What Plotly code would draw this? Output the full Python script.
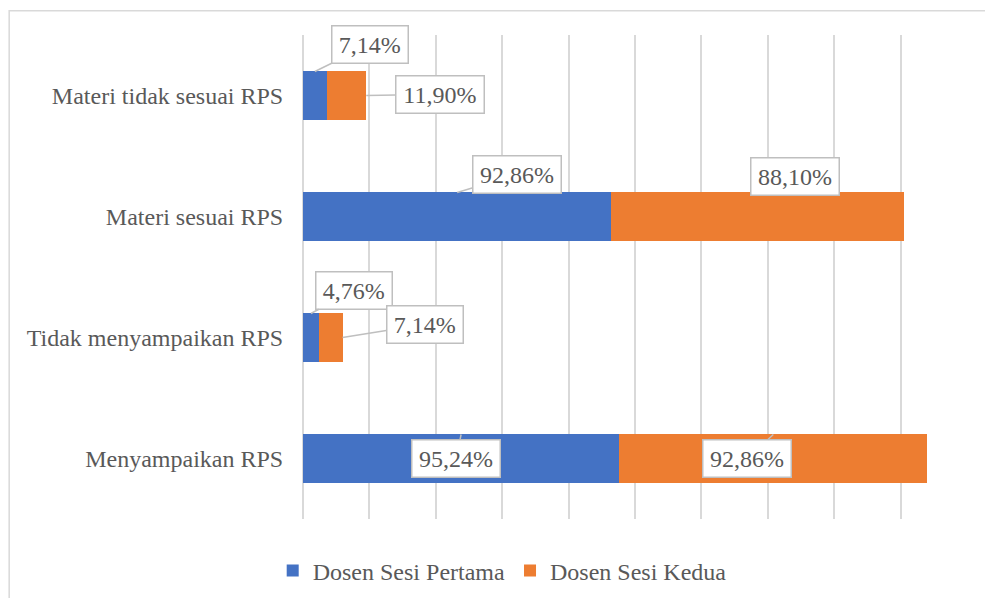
import plotly.graph_objects as go

categories = ["Menyampaikan RPS", "Tidak menyampaikan RPS", "Materi sesuai RPS", "Materi tidak sesuai RPS"]
series_names = ["Dosen Sesi Pertama", "Dosen Sesi Kedua"]
pertama = [95.24, 4.76, 92.86, 7.14]
kedua = [92.86, 7.14, 88.10, 11.90]

colors = ["#4472C4", "#ED7D31"]
FONT = "Liberation Serif"
TXT = "#595959"

def fmt(v):
    return f"{v:.2f}".replace(".", ",") + "%"

fig = go.Figure()
fig.add_trace(go.Bar(y=categories, x=pertama, name=series_names[0], orientation="h",
                     marker=dict(color=colors[0], line=dict(width=0)), width=0.4))
fig.add_trace(go.Bar(y=categories, x=kedua, name=series_names[1], orientation="h",
                     marker=dict(color=colors[1], line=dict(width=0)), width=0.4))

# callout label placement (pixel offsets of box from tip); 'mid' = segment centre top, 'end' = segment end
callouts = [
    (0, 3, "mid", 55, -27),
    (1, 3, "end", 74, -1),
    (0, 2, "mid", 60, -18),
    (1, 2, "mid", 37, -16),
    (0, 1, "mid", 43, -23),
    (1, 1, "end", 82, -13),
    (0, 0, "mid", -5, 24),
    (1, 0, "mid", -26, 24),
]
data = [pertama, kedua]
for s, ci, mode, ax, ay in callouts:
    v = data[s][ci]
    base = 0 if s == 0 else pertama[ci]
    if mode == "mid":
        x = base + v / 2
        ysh = 24
    else:
        x = base + v
        ysh = 0
    label = fmt(v)
    fig.add_annotation(x=x, y=categories[ci], xref="x", yref="y", yshift=ysh,
                       text=label, showarrow=True, arrowhead=0, arrowwidth=1.5,
                       arrowcolor="#BFBFBF", ax=ax, ay=ay,
                       font=dict(family=FONT, size=24, color=TXT),
                       bgcolor="white", bordercolor="#BFBFBF", borderwidth=1.5,
                       borderpad=5, width=3 + 12.3 * len(label))

# outer chart border
fig.add_shape(type="rect", xref="paper", yref="paper", x0=-0.4425, x1=1.1, y0=-0.2, y1=1.05,
              line=dict(color="#D9D9D9", width=1.5), fillcolor="rgba(0,0,0,0)", layer="below")

fig.update_layout(
    barmode="stack",
    width=977, height=590,
    margin=dict(l=295, r=18, t=27, b=79, autoexpand=False),
    plot_bgcolor="white", paper_bgcolor="white",
    font=dict(family=FONT, size=24, color=TXT),
    showlegend=True,
    legend=dict(orientation="h", x=0.3, xanchor="center",
                yref="container", y=0.046, yanchor="middle",
                font=dict(family=FONT, size=24, color=TXT), itemsizing="constant",
                traceorder="normal"),
    xaxis=dict(range=[0, 200], dtick=20, showgrid=True, gridcolor="#D9D9D9", gridwidth=1.5,
               showticklabels=False, zeroline=True, zerolinecolor="#D9D9D9", zerolinewidth=1.5,
               showline=False, fixedrange=True, automargin=False),
    yaxis=dict(categoryorder="array", categoryarray=categories, range=[-0.5, 3.5],
               autorange=False, showgrid=False,
               ticks="outside", ticklen=14, tickcolor="rgba(0,0,0,0)",
               tickfont=dict(family=FONT, size=24, color=TXT), showline=False, fixedrange=True,
               automargin=False),
)

fig.write_html("out.html")
